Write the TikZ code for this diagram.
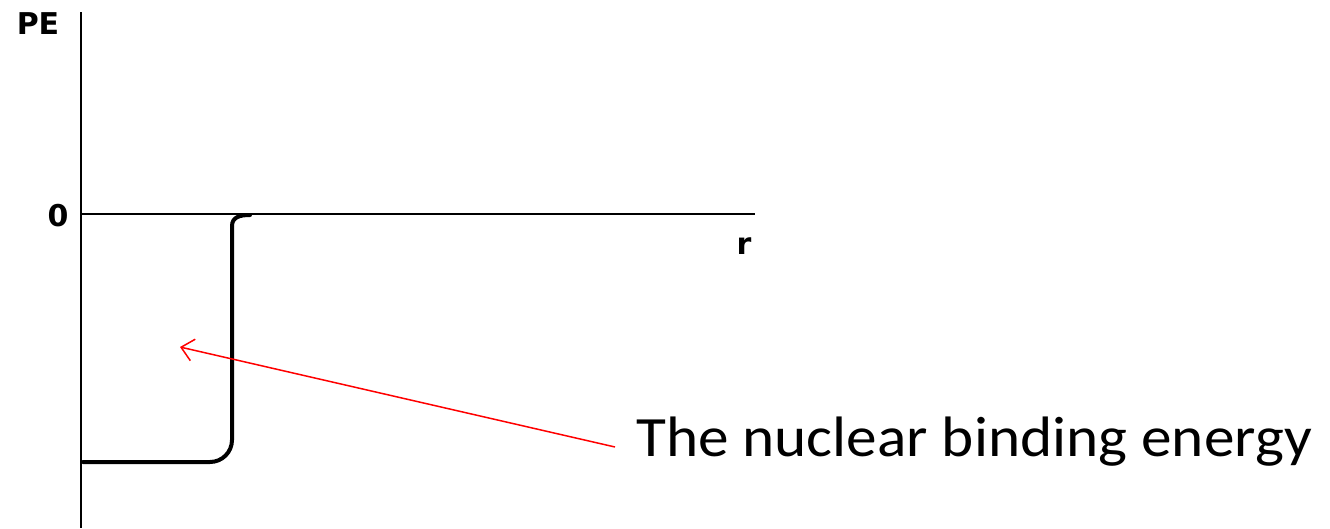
\documentclass[tikz,border=0pt]{standalone}
\usepackage{fontspec}
\setmainfont{Carlito}
\newfontfamily\handfont{DejaVu Sans}
\usetikzlibrary{arrows.meta}
\begin{document}
\begin{tikzpicture}[x=1pt,y=-1pt,
  axis/.style={line width=2.2pt,black},
  well/.style={line width=4pt,black,line cap=round,rounded corners=22pt},
  lab/.style={font=\handfont\bfseries\fontsize{30}{30}\selectfont,inner sep=0pt},
  note/.style={font=\fontsize{57}{60}\selectfont,inner sep=0pt,anchor=west,xscale=1.075},
  pointer/.style={red,line width=1.5pt,-{Straight Barb[length=12pt,width=22pt,line width=1.5pt]}}]
\useasboundingbox (0,0) rectangle (1330,528);
\coordinate (ytop) at (81,12);
\coordinate (ybot) at (81,528);
\coordinate (origin) at (81,214);
\coordinate (xend) at (755,214);
\draw[axis] (ytop) -- (ybot);
\draw[axis] (origin) -- (xend);
\node[lab] (pe) at (38,24) {PE};
\node[lab] (zero) at (58,216) {0};
\node[lab] (r) at (744,246) {r};
\coordinate (w0) at (83,462);
\coordinate (w1) at (232,462);
\coordinate (w2) at (232,226);
\coordinate (w3) at (250,215);
\draw[well] (w0) -- (w1) -- (w2);
\draw[line width=4pt,line cap=round] (w2) .. controls (232,217) and (240,215) .. (w3);
\node[note] (txt) at (636,442) {The nuclear binding energy};
\coordinate (tip) at (180,347);
\draw[pointer] (615,447) -- (tip);
\end{tikzpicture}
\end{document}
